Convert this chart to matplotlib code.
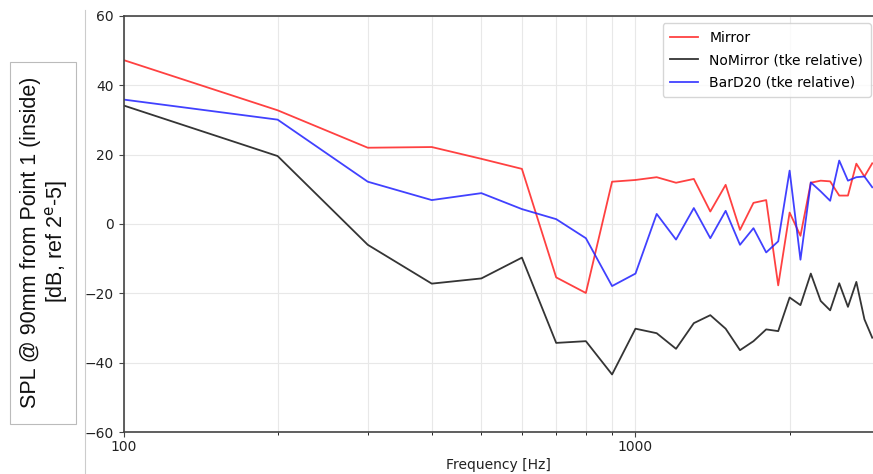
import matplotlib
matplotlib.use("Agg")
import matplotlib.pyplot as plt
from matplotlib.patches import Rectangle
from matplotlib.lines import Line2D
from matplotlib.ticker import LogLocator, NullFormatter, FixedLocator, FixedFormatter

freq = [100, 200, 300, 400, 500, 600, 700, 800, 900, 1000,
        1100, 1200, 1300, 1400, 1500, 1600, 1700, 1800, 1900, 2000,
        2100, 2200, 2300, 2400, 2500, 2600, 2700, 2800, 2900]

mirror = [47.3, 32.8, 22.0, 22.2, 18.8, 15.9, -15.4, -19.9, 12.2, 12.7,
          13.5, 11.9, 13.0, 3.6, 11.3, -1.7, 6.1, 6.9, -17.7, 3.3,
          -3.4, 11.9, 12.5, 12.3, 8.2, 8.2, 17.4, 13.7, 17.5]

nomirror = [34.2, 19.6, -6.0, -17.2, -15.7, -9.7, -34.3, -33.8, -43.4, -30.2,
            -31.5, -36.0, -28.6, -26.3, -30.2, -36.4, -33.8, -30.4, -30.9, -21.2,
            -23.4, -14.3, -22.2, -24.9, -17.1, -23.9, -16.7, -27.5, -32.8]

bard20 = [35.9, 30.1, 12.2, 6.9, 8.9, 4.3, 1.4, -4.1, -17.9, -14.3,
          2.9, -4.5, 4.6, -4.1, 3.8, -6.0, -1.2, -8.2, -5.0, 15.4,
          -10.3, 12.0, 9.4, 6.7, 18.3, 12.5, 13.5, 13.7, 10.6]

labels = ["Mirror", "NoMirror (tke relative)", "BarD20 (tke relative)"]
ylabel = "SPL @ 90mm from Point 1 (inside)\n[dB, ref 2$^{\\mathrm{e}}$-5]"
xlabel = "Frequency [Hz]"

W, H = 873, 474
fig = plt.figure(figsize=(W / 100, H / 100), dpi=100)
ax = fig.add_axes([123.5 / W, 1 - 432 / H, 1 - 123.5 / W, (432 - 16) / H])

ax.plot(freq, mirror, color="#ff2020", alpha=0.85, lw=1.3, label=labels[0])
ax.plot(freq, nomirror, color="#111111", alpha=0.85, lw=1.3, label=labels[1])
ax.plot(freq, bard20, color="#2020ff", alpha=0.85, lw=1.3, label=labels[2])

ax.set_xscale("log")
ax.set_xlim(100, 2910)
ax.set_ylim(-60, 60)
ax.set_yticks([-60, -40, -20, 0, 20, 40, 60])
ax.xaxis.set_major_locator(FixedLocator([100, 1000]))
ax.xaxis.set_major_formatter(FixedFormatter(["100", "1000"]))
ax.xaxis.set_minor_locator(LogLocator(base=10, subs=range(2, 10)))
ax.xaxis.set_minor_formatter(NullFormatter())
ax.grid(True, which="both", color="#e8e8e8", lw=0.8)
ax.set_axisbelow(True)
for s in ["left", "bottom", "top"]:
    ax.spines[s].set_color("#444444")
    ax.spines[s].set_linewidth(1.2)
ax.spines["right"].set_visible(False)
ax.tick_params(axis="both", labelsize=10, color="#444444", labelcolor="#222222")
ax.tick_params(axis="x", which="major", pad=2)
ax.set_xlabel(xlabel, fontsize=10, color="#222222", labelpad=3)

leg = ax.legend(loc="upper right", fontsize=10, frameon=True, fancybox=True,
                borderpad=0.55, labelspacing=0.6, handlelength=2.0,
                borderaxespad=0, bbox_to_anchor=(0.997, 0.983))
leg.get_frame().set_edgecolor("#cccccc")

# y-label box and separator line
fig.add_artist(Rectangle((10 / W, 1 - 424 / H), 66 / W, 362 / H,
                         transform=fig.transFigure, fill=False,
                         edgecolor="#bbbbbb", lw=0.8))
fig.add_artist(Line2D([85 / W, 85 / W], [0, 1 - 10 / H], transform=fig.transFigure,
                      color="#cccccc", lw=0.8))
fig.text(45 / W, 1 - 242 / H, ylabel, rotation=90, ha="center", va="center",
         fontsize=15.5, family="Liberation Sans", linespacing=1.15, color="#111111")

fig.savefig("out.png", dpi=100)
